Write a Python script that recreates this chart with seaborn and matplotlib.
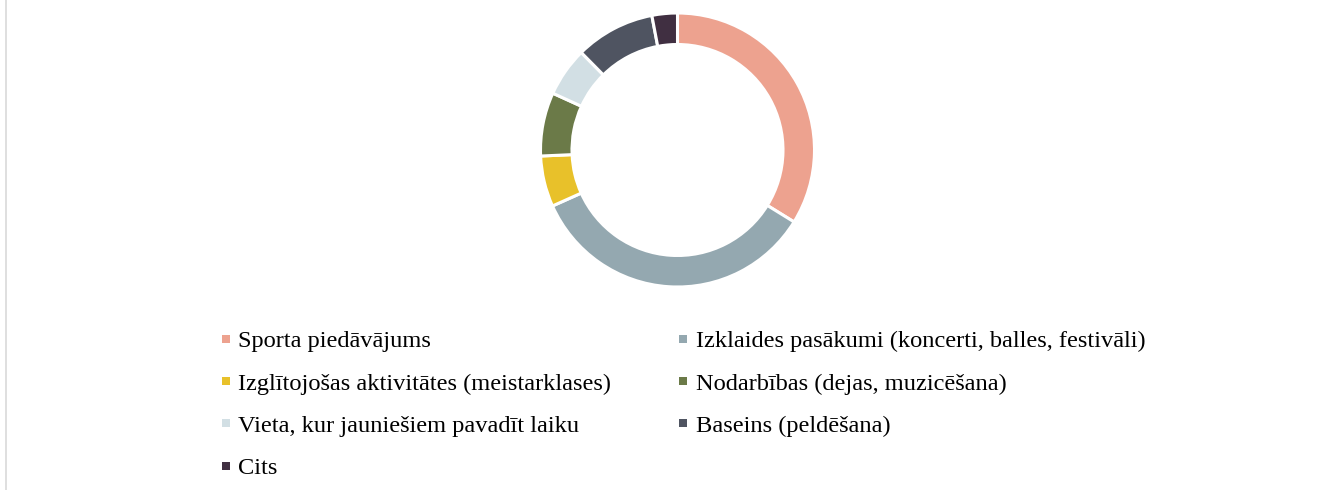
import matplotlib
matplotlib.use("Agg")
import matplotlib.pyplot as plt
import seaborn as sns
from matplotlib.lines import Line2D

categories = [
    "Sporta piedāvājums",
    "Izklaides pasākumi (koncerti, balles, festivāli)",
    "Izglītojošas aktivitātes (meistarklases)",
    "Nodarbības (dejas, muzicēšana)",
    "Vieta, kur jauniešiem pavadīt laiku",
    "Baseins (peldēšana)",
    "Cits",
]
values = [33.8, 34.5, 6.0, 7.5, 5.8, 9.4, 3.0]
colors = ["#EDA28F", "#94A8B0", "#E8C12A", "#6B7A48", "#D2DFE4", "#4F5461", "#402F41"]

sns.set_theme(style="white")
plt.rcParams["font.family"] = ["Liberation Serif", "DejaVu Serif"]

W, H = 1320, 490
fig = plt.figure(figsize=(W / 100, H / 100), dpi=100)

cx, cy, r = 677.5, 150, 137
ax = fig.add_axes([(cx - r) / W, (H - cy - r) / H, 2 * r / W, 2 * r / H])
ax.pie(values, colors=colors, startangle=90, counterclock=False, radius=1.0,
       wedgeprops=dict(width=0.23, edgecolor="white", linewidth=2.2))
ax.set_xlim(-1, 1)
ax.set_ylim(-1, 1)
ax.set_aspect("equal")
ax.axis("off")

# left frame line
fig.add_artist(Line2D([6.5 / W, 6.5 / W], [0, 1], transform=fig.transFigure,
                      color="#D9D9D9", linewidth=1.2))

order = [0, 2, 4, 6, 1, 3, 5]
handles = [Line2D([], [], marker="s", linestyle="", markersize=5.8,
                  markerfacecolor=colors[i], markeredgewidth=0) for i in order]
labels = [categories[i] for i in order]
leg = fig.legend(handles, labels, ncol=2, frameon=False,
                 loc="upper left", bbox_to_anchor=(220 / W, 1 - 330 / H),
                 prop={"family": ["Liberation Serif"], "size": 17.6},
                 handlelength=0.45, handletextpad=0.3, labelspacing=0.83,
                 columnspacing=2.7, borderpad=0, borderaxespad=0)
for t in leg.get_texts():
    t.set_color("#000000")

fig.savefig("out.png", dpi=100, facecolor="white")
